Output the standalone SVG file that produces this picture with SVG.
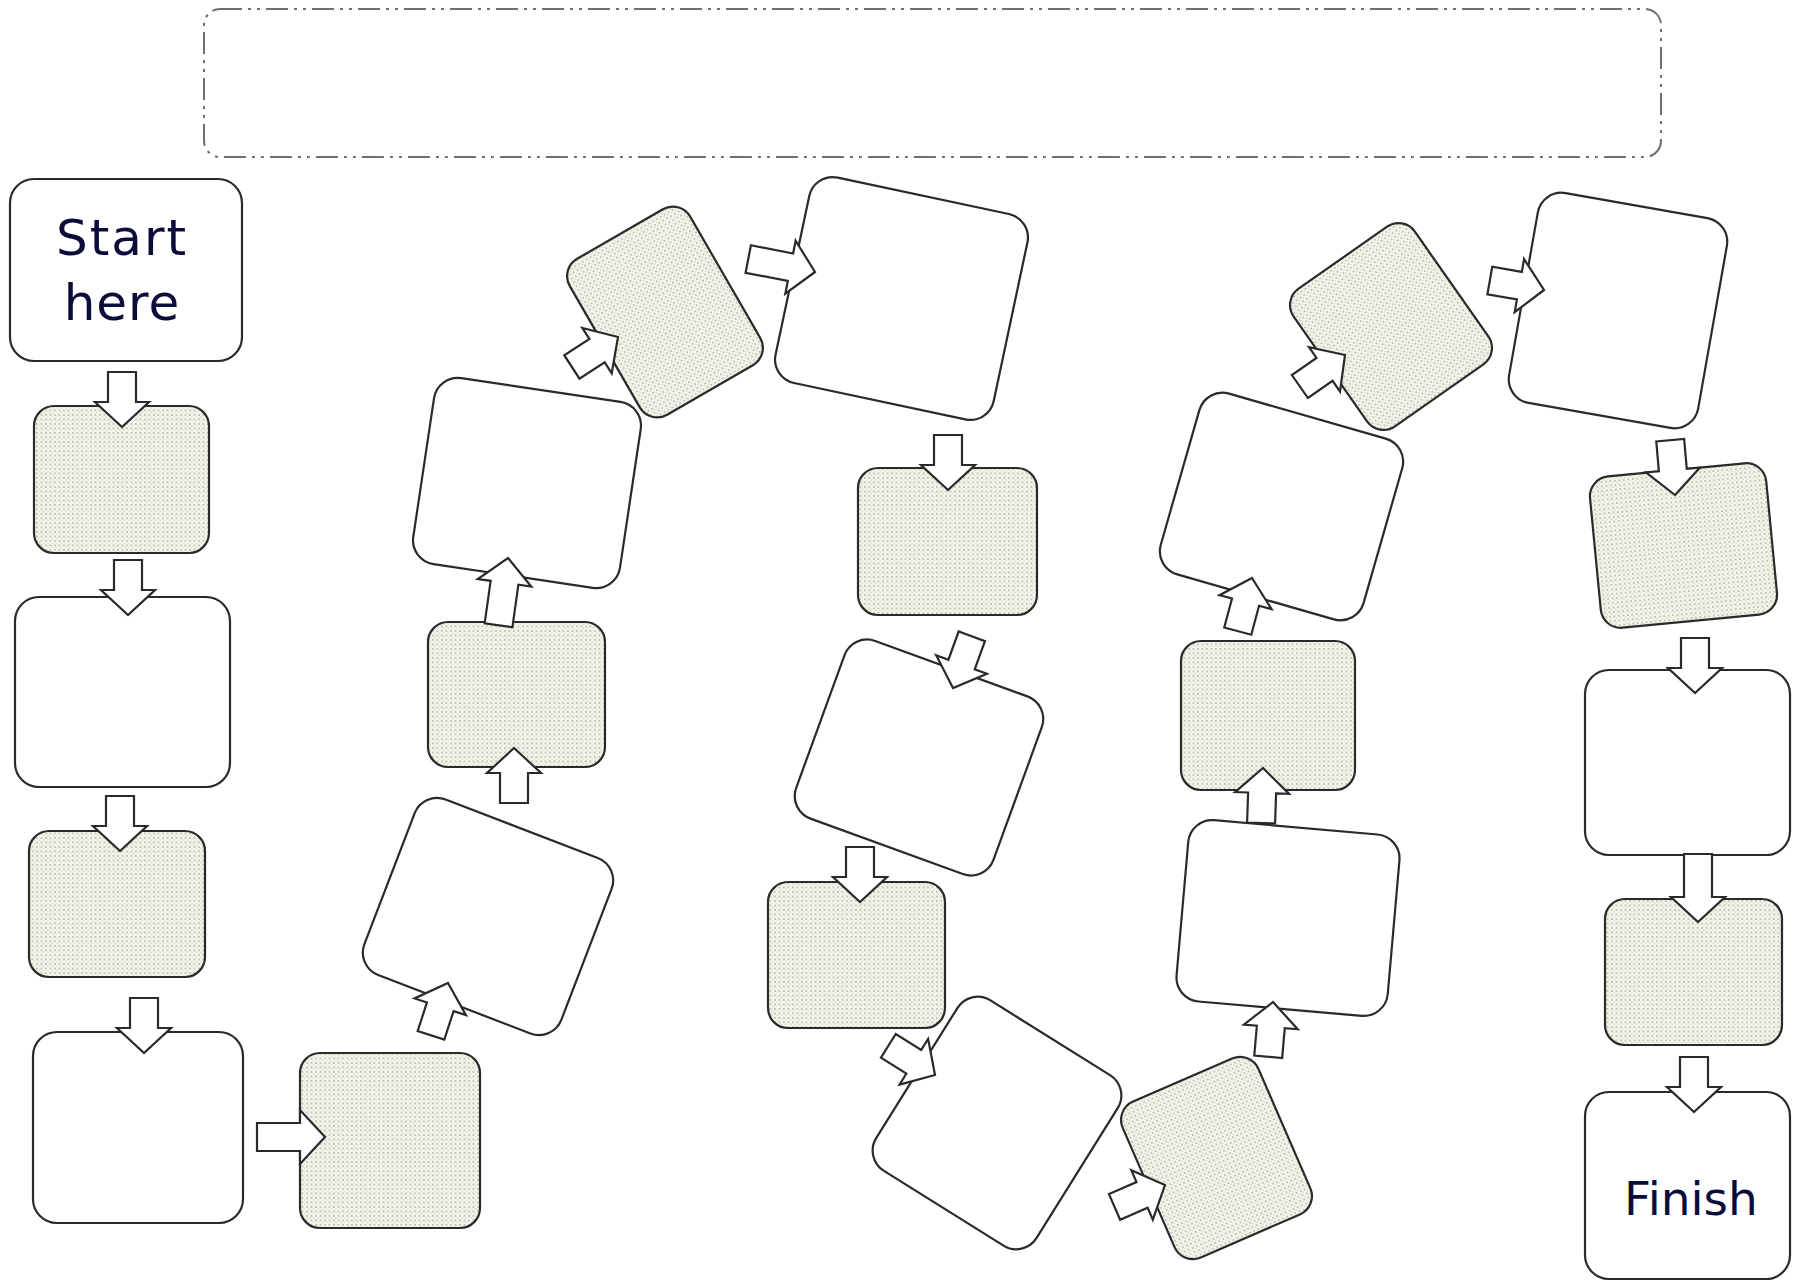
<svg xmlns="http://www.w3.org/2000/svg" xmlns:xlink="http://www.w3.org/1999/xlink" width="1800" height="1283" viewBox="0 0 1800 1283">
<defs>
<pattern id="dots" width="4.5" height="4.5" patternUnits="userSpaceOnUse">
<rect width="4.5" height="4.5" fill="#f3f5ea"/>
<rect x="0" y="0" width="1.8" height="1.8" fill="#bfc3b2"/>
<rect x="2.25" y="2.25" width="1.4" height="1.4" fill="#d6dac8"/>
</pattern>
<path id="arr" d="M0,0 L-27,-25 L-14,-25 L-14,-55 L14,-55 L14,-25 L27,-25 Z"/>
<path id="arrL" d="M0,0 L-27,-25 L-14,-25 L-14,-68 L14,-68 L14,-25 L27,-25 Z"/>
</defs>
<style>
.w{fill:#ffffff;stroke:#2a2a2a;stroke-width:2.2}
.s{fill:url(#dots);stroke:#2a2a2a;stroke-width:2.2}
.a{fill:#ffffff;stroke:#2a2a2a;stroke-width:2.2;stroke-linejoin:miter}
.t{font-family:"DejaVu Sans","Liberation Sans",sans-serif;fill:#0c0c3a;text-anchor:middle}
.title{fill:none;stroke:#707070;stroke-width:2;stroke-dasharray:22 6 3 6 3 6}
</style>
<rect width="1800" height="1283" fill="#ffffff"/>

<g id="title-box"><rect class="title" x="204" y="9" width="1457" height="148" rx="16"/></g>

<g id="n1"><rect class="w" x="10" y="179" width="232" height="182" rx="24"/>
<text class="t" x="122" y="255" font-size="50" letter-spacing="2">Start</text>
<text class="t" x="122" y="320" font-size="50" letter-spacing="1">here</text></g>
<g id="n2"><rect class="s" x="34" y="406" width="175" height="147" rx="20"/></g>
<g id="n3"><rect class="w" x="15" y="597" width="215" height="190" rx="24"/></g>
<g id="n4"><rect class="s" x="29" y="831" width="176" height="146" rx="20"/></g>
<g id="n5"><rect class="w" x="33" y="1032" width="210" height="191" rx="24"/></g>
<g id="n6"><rect class="s" x="300" y="1053" width="180" height="175" rx="20"/></g>
<g id="n7"><rect class="w" x="-105.5" y="-94" width="211" height="188" rx="24" transform="translate(488,916.5) rotate(21)"/></g>
<g id="n8"><rect class="s" x="428" y="622" width="177" height="145" rx="20"/></g>
<g id="n9"><rect class="w" x="-104.5" y="-94" width="209" height="188" rx="24" transform="translate(527,483) rotate(8.5)"/></g>
<g id="n10"><rect class="s" x="-90" y="-69.5" width="180" height="139" rx="20" transform="translate(665,312) rotate(60)"/></g>
<g id="n11"><rect class="w" x="-111.5" y="-105" width="223" height="210" rx="24" transform="translate(901.5,298.5) rotate(12)"/></g>
<g id="n12"><rect class="s" x="858" y="468" width="179" height="147" rx="20"/></g>
<g id="n13"><rect class="w" x="-105" y="-94.5" width="210" height="189" rx="24" transform="translate(919,757.5) rotate(20)"/></g>
<g id="n14"><rect class="s" x="768" y="882" width="177" height="146" rx="20"/></g>
<g id="n15"><rect class="w" x="-94.5" y="-100.5" width="189" height="201" rx="24" transform="translate(997,1123) rotate(32)"/></g>
<g id="n16"><rect class="s" x="-74" y="-85" width="148" height="170" rx="20" transform="translate(1216.5,1158) rotate(-23.5)"/></g>
<g id="n17"><rect class="w" x="-106" y="-91" width="212" height="182" rx="24" transform="translate(1288,918) rotate(5)"/></g>
<g id="n18"><rect class="s" x="1181" y="641" width="174" height="149" rx="20"/></g>
<g id="n19"><rect class="w" x="-105.5" y="-94" width="211" height="188" rx="24" transform="translate(1281.5,506.5) rotate(16)"/></g>
<g id="n20"><rect class="s" x="-74" y="-84" width="148" height="168" rx="20" transform="translate(1391,326.5) rotate(-35)"/></g>
<g id="n21"><rect class="w" x="-96" y="-106.5" width="192" height="213" rx="24" transform="translate(1618,310.5) rotate(10)"/></g>
<g id="n22"><rect class="s" x="-88.5" y="-76" width="177" height="152" rx="20" transform="translate(1683.5,545.5) rotate(-5.5)"/></g>
<g id="n23"><rect class="w" x="1585" y="670" width="205" height="185" rx="24"/></g>
<g id="n24"><rect class="s" x="1605" y="899" width="177" height="146" rx="20"/></g>
<g id="n25"><rect class="w" x="1585" y="1092" width="205" height="187" rx="24"/>
<text class="t" x="1691" y="1215" font-size="47">Finish</text></g>

<g id="connectors">
<use class="a" xlink:href="#arr" transform="translate(122,427)"/>
<use class="a" xlink:href="#arr" transform="translate(128,615)"/>
<use class="a" xlink:href="#arr" transform="translate(120,851)"/>
<use class="a" xlink:href="#arr" transform="translate(144,1053)"/>
<use class="a" xlink:href="#arrL" transform="translate(325,1137) rotate(-90)"/>
<use class="a" xlink:href="#arr" transform="translate(448,983) rotate(198)"/>
<use class="a" xlink:href="#arr" transform="translate(514,748) rotate(180)"/>
<use class="a" xlink:href="#arrL" transform="translate(508,558) rotate(188)"/>
<use class="a" xlink:href="#arr" transform="translate(618,337) rotate(237)"/>
<use class="a" xlink:href="#arrL" transform="translate(815,272) rotate(-79)"/>
<use class="a" xlink:href="#arr" transform="translate(948,490)"/>
<use class="a" xlink:href="#arr" transform="translate(953,688) rotate(20)"/>
<use class="a" xlink:href="#arr" transform="translate(860,902)"/>
<use class="a" xlink:href="#arr" transform="translate(935,1075) rotate(-58)"/>
<use class="a" xlink:href="#arr" transform="translate(1165,1185) rotate(246.5)"/>
<use class="a" xlink:href="#arr" transform="translate(1273,1002) rotate(185)"/>
<use class="a" xlink:href="#arr" transform="translate(1263,768) rotate(182)"/>
<use class="a" xlink:href="#arr" transform="translate(1252,578) rotate(195)"/>
<use class="a" xlink:href="#arr" transform="translate(1345,355) rotate(235)"/>
<use class="a" xlink:href="#arr" transform="translate(1544,290) rotate(-80)"/>
<use class="a" xlink:href="#arr" transform="translate(1675,495) rotate(-5)"/>
<use class="a" xlink:href="#arr" transform="translate(1695,693)"/>
<use class="a" xlink:href="#arrL" transform="translate(1698,922)"/>
<use class="a" xlink:href="#arr" transform="translate(1694,1112)"/>
</g>
</svg>
